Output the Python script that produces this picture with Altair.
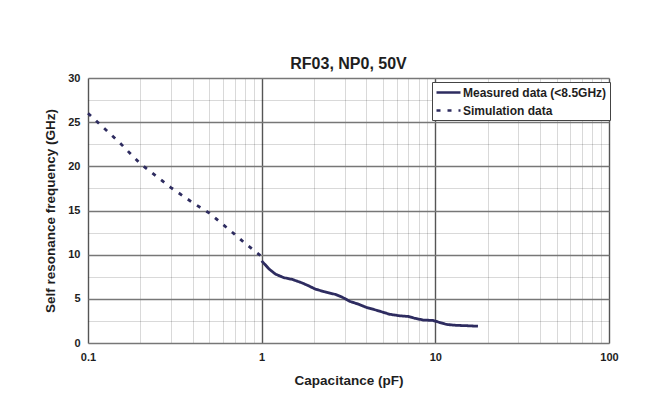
import altair as alt
import pandas as pd

# Simulation data (dashed)
sim_cap = [0.1, 0.15, 0.2, 0.3, 0.4, 0.5, 0.6, 0.7, 0.8, 0.9, 1.0]
sim_freq = [26.0, 22.8, 20.3, 17.6, 15.9, 14.7, 13.4, 12.3, 11.3, 10.5, 9.8]

# Measured data (solid)
meas_cap = [1.0, 1.1, 1.2, 1.34, 1.5, 1.71, 1.85, 2.04, 2.3, 2.66, 2.9, 3.23, 3.6, 3.98,
            4.6, 5.46, 6.24, 7.0, 7.6, 8.5, 9.7, 10.5, 11.6, 13.2, 15.5, 17.6]
meas_freq = [9.3, 8.4, 7.8, 7.4, 7.2, 6.8, 6.5, 6.1, 5.8, 5.5, 5.2, 4.7, 4.4, 4.05,
             3.7, 3.25, 3.08, 3.0, 2.8, 2.6, 2.55, 2.35, 2.1, 2.0, 1.95, 1.9]

series_names = ["Measured data (<8.5GHz)", "Simulation data"]

df = pd.concat([
    pd.DataFrame({"cap": meas_cap, "freq": meas_freq, "series": series_names[0], "order": range(len(meas_cap))}),
    pd.DataFrame({"cap": sim_cap, "freq": sim_freq, "series": series_names[1], "order": range(len(sim_cap))}),
])

x_ticks = [0.1, 0.2, 0.3, 0.4, 0.5, 0.6, 0.7, 0.8, 0.9,
           1, 2, 3, 4, 5, 6, 7, 8, 9,
           10, 20, 30, 40, 50, 60, 70, 80, 90, 100]
y_ticks = [0, 2.5, 5, 7.5, 10, 12.5, 15, 17.5, 20, 22.5, 25, 27.5, 30]

decade = "abs(log(datum.value)/LN10 - round(log(datum.value)/LN10)) < 1e-6"
major_y = "datum.value % 5 === 0"

FONT = "Liberation Sans"
TXT = "#1e1e1e"

chart = alt.Chart(df).mark_line(strokeWidth=2.8).encode(
    x=alt.X("cap:Q",
            scale=alt.Scale(type="log", domain=[0.1, 100], nice=False),
            axis=alt.Axis(values=x_ticks, title="Capacitance (pF)",
                          labelExpr=f"({decade}) ? format(datum.value, '~g') : ''",
                          gridColor={"condition": {"test": decade, "value": "#555555"}, "value": "#000000"},
                          gridOpacity={"condition": {"test": decade, "value": 1}, "value": 0.15},
                          gridWidth={"condition": {"test": decade, "value": 1.4}, "value": 1},
                          ticks=False, domain=False, labelPadding=8,
                          labelFont=FONT, labelFontSize=11, labelFontWeight="bold", labelColor=TXT,
                          titleFont=FONT, titleFontSize=13.5, titleFontWeight="bold", titleColor=TXT,
                          titlePadding=11, labelFlush=False)),
    y=alt.Y("freq:Q",
            scale=alt.Scale(domain=[0, 30], nice=False),
            axis=alt.Axis(values=y_ticks, title="Self resonance frequency (GHz)",
                          labelExpr=f"({major_y}) ? datum.label : ''",
                          gridColor={"condition": {"test": major_y, "value": "#777777"}, "value": "#000000"},
                          gridOpacity={"condition": {"test": major_y, "value": 1}, "value": 0.15},
                          gridWidth={"condition": {"test": major_y, "value": 1.6}, "value": 1},
                          ticks=False, domain=False, labelPadding=8,
                          labelFont=FONT, labelFontSize=11, labelFontWeight="bold", labelColor=TXT,
                          titleFont=FONT, titleFontSize=13.5, titleFontWeight="bold", titleColor=TXT,
                          titlePadding=10)),
    color=alt.Color("series:N",
                    scale=alt.Scale(domain=series_names, range=["#2e2c60", "#2e2c60"]),
                    legend=alt.Legend(title=None, orient="none", legendX=344, legendY=4,
                                      symbolType="M-1,0H3", symbolSize=144, symbolStrokeWidth=2.6,
                                      labelFont=FONT, labelFontSize=12, labelFontWeight="bold",
                                      labelColor=TXT, fillColor="white", strokeColor="#444",
                                      padding=3, rowPadding=4, labelOffset=13)),
    strokeDash=alt.StrokeDash("series:N",
                              scale=alt.Scale(domain=series_names, range=[[1, 0], [4, 7]]),
                              legend=None),
    order="order:Q",
).properties(
    width=521, height=265,
    title=alt.Title("RF03, NP0, 50V", font=FONT, fontSize=16, fontWeight="bold", color=TXT, offset=0),
    autosize=alt.AutoSizeParams(type="none"),
    padding={"left": 80, "top": 70, "right": 30, "bottom": 60},
).configure_view(
    stroke="#555555", strokeWidth=1.5
).configure(background="white")

chart.save("out.html", embed_options={"renderer": "svg", "actions": False})
